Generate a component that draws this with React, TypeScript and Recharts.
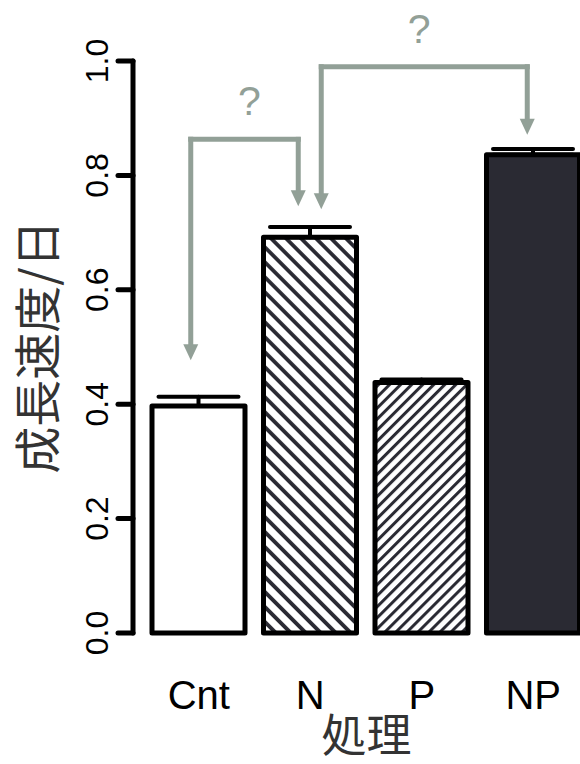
import { Bar, BarChart, Cell, ErrorBar, ReferenceLine, XAxis, YAxis } from "recharts";

// Valores por tratamiento
const tratamientos = ["Cnt", "N", "P", "NP"];
const crecimiento = [0.397, 0.692, 0.438, 0.836];
const errorSuperior = [0.016, 0.018, 0.005, 0.01];
const marcasY = [0, 0.2, 0.4, 0.6, 0.8, 1.0];

// Comparaciones marcadas con "?": extremos y puntas de flecha en unidades del eje Y
const comparaciones = [
  { desde: "Cnt", hasta: "N", tope: 0.863, puntaDesde: 0.477, puntaHasta: 0.746 },
  { desde: "N", hasta: "NP", tope: 0.99, puntaDesde: 0.741, puntaHasta: 0.871 },
];

const rellenos = ["#ffffff", "url(#rayaInvertida)", "url(#rayaDerecha)", "#2a2a33"];
// desplazamiento horizontal (px) de cada pata respecto al centro de su barra
const corrimientos = [
  { desde: -8, hasta: -12, texto: 5 },
  { desde: 11, hasta: -6, texto: -5 },
];

const GRIS = "#92a097";
const TINTA = "#2a2a33";
const SANS = "'Liberation Sans', Arial, sans-serif";
const CJK = "'Noto Sans CJK JP', sans-serif";

const datos = tratamientos.map((t, i) => ({
  tratamiento: t,
  crecimiento: crecimiento[i],
  error: [0, errorSuperior[i]],
}));

function MarcaY({ x, y, payload }: any) {
  return (
    <text x={x} y={y} transform={`rotate(-90 ${x} ${y})`} textAnchor="middle" fontSize={32} fontFamily={SANS} fill="#000">
      {Number(payload.value).toFixed(1)}
    </text>
  );
}

function Pata({ x1, y1, y2, dx }: any) {
  const x = x1 + dx;
  const base = y2 - 16;
  return (
    <g>
      <line x1={x} y1={y1} x2={x} y2={base + 1} stroke={GRIS} strokeWidth={5} strokeLinecap="square" />
      <polygon points={`${x - 7.5},${base} ${x + 7.5},${base} ${x},${y2}`} fill={GRIS} />
    </g>
  );
}

function Tramo({ x1, y1, x2, dx1, dx2, dxTexto }: any) {
  const a = x1 + dx1;
  const b = x2 + dx2;
  return (
    <g>
      <line x1={a} y1={y1} x2={b} y2={y1} stroke={GRIS} strokeWidth={5} strokeLinecap="square" />
      <text x={(a + b) / 2 + dxTexto} y={y1 - 24} textAnchor="middle" fontSize={41} fontFamily={SANS} fill={GRIS}>
        ?
      </text>
    </g>
  );
}

export default function App() {
  return (
    <div style={{ position: "absolute", left: 0, top: 0, width: 580, height: 764, overflow: "hidden", background: "#fff" }}>
      <BarChart width={600} height={764} data={datos} margin={{ top: 61, right: 0, bottom: 0, left: 0 }} barSize={93}>
        <defs>
          <pattern id="rayaInvertida" patternUnits="userSpaceOnUse" width={10.6} height={10.6} patternTransform="rotate(-45)">
            <rect width={10.6} height={10.6} fill="#fff" />
            <rect width={3.8} height={10.6} fill={TINTA} />
          </pattern>
          <pattern id="rayaDerecha" patternUnits="userSpaceOnUse" width={7.8} height={7.8} patternTransform="rotate(45)">
            <rect width={7.8} height={7.8} fill="#fff" />
            <rect width={3} height={7.8} fill={TINTA} />
          </pattern>
        </defs>
        <XAxis
          dataKey="tratamiento"
          height={131}
          padding={{ left: 10, right: 11 }}
          axisLine={false}
          tickLine={false}
          tickSize={0}
          tickMargin={48}
          interval={0}
          tick={{ fill: "#000", fontSize: 40, fontFamily: SANS }}
          label={{ value: "処理", position: "insideBottom", offset: 12, fontSize: 45, fill: "#333", fontFamily: CJK }}
        />
        <YAxis
          width={133}
          domain={[0, 1]}
          ticks={marcasY}
          axisLine={{ stroke: "#000", strokeWidth: 5, strokeLinecap: "round" }}
          tickLine={{ stroke: "#000", strokeWidth: 5, strokeLinecap: "round" }}
          tickSize={15}
          tickMargin={10}
          tick={<MarcaY />}
          label={{
            value: "成長速度/日",
            angle: -90,
            position: "insideLeft",
            offset: 38,
            fontSize: 47,
            fill: "#333",
            fontFamily: CJK,
            style: { textAnchor: "middle" },
          }}
        />
        <Bar dataKey="crecimiento" stroke="#000" strokeWidth={5} strokeLinejoin="round" isAnimationActive={false}>
          {datos.map((d, i) => (
            <Cell key={d.tratamiento} fill={rellenos[i]} />
          ))}
          <ErrorBar dataKey="error" direction="y" width={40} stroke="#000" strokeWidth={4} strokeLinecap="round" isAnimationActive={false} />
        </Bar>
        {comparaciones.map((c, i) => [
          <ReferenceLine
            key={`a${i}`}
            ifOverflow="visible"
            segment={[{ x: c.desde, y: c.tope }, { x: c.desde, y: c.puntaDesde }]}
            shape={(p: any) => <Pata {...p} dx={corrimientos[i].desde} />}
          />,
          <ReferenceLine
            key={`b${i}`}
            ifOverflow="visible"
            segment={[{ x: c.hasta, y: c.tope }, { x: c.hasta, y: c.puntaHasta }]}
            shape={(p: any) => <Pata {...p} dx={corrimientos[i].hasta} />}
          />,
          <ReferenceLine
            key={`c${i}`}
            ifOverflow="visible"
            segment={[{ x: c.desde, y: c.tope }, { x: c.hasta, y: c.tope }]}
            shape={(p: any) => (
              <Tramo {...p} dx1={corrimientos[i].desde} dx2={corrimientos[i].hasta} dxTexto={corrimientos[i].texto} />
            )}
          />,
        ])}
      </BarChart>
    </div>
  );
}
